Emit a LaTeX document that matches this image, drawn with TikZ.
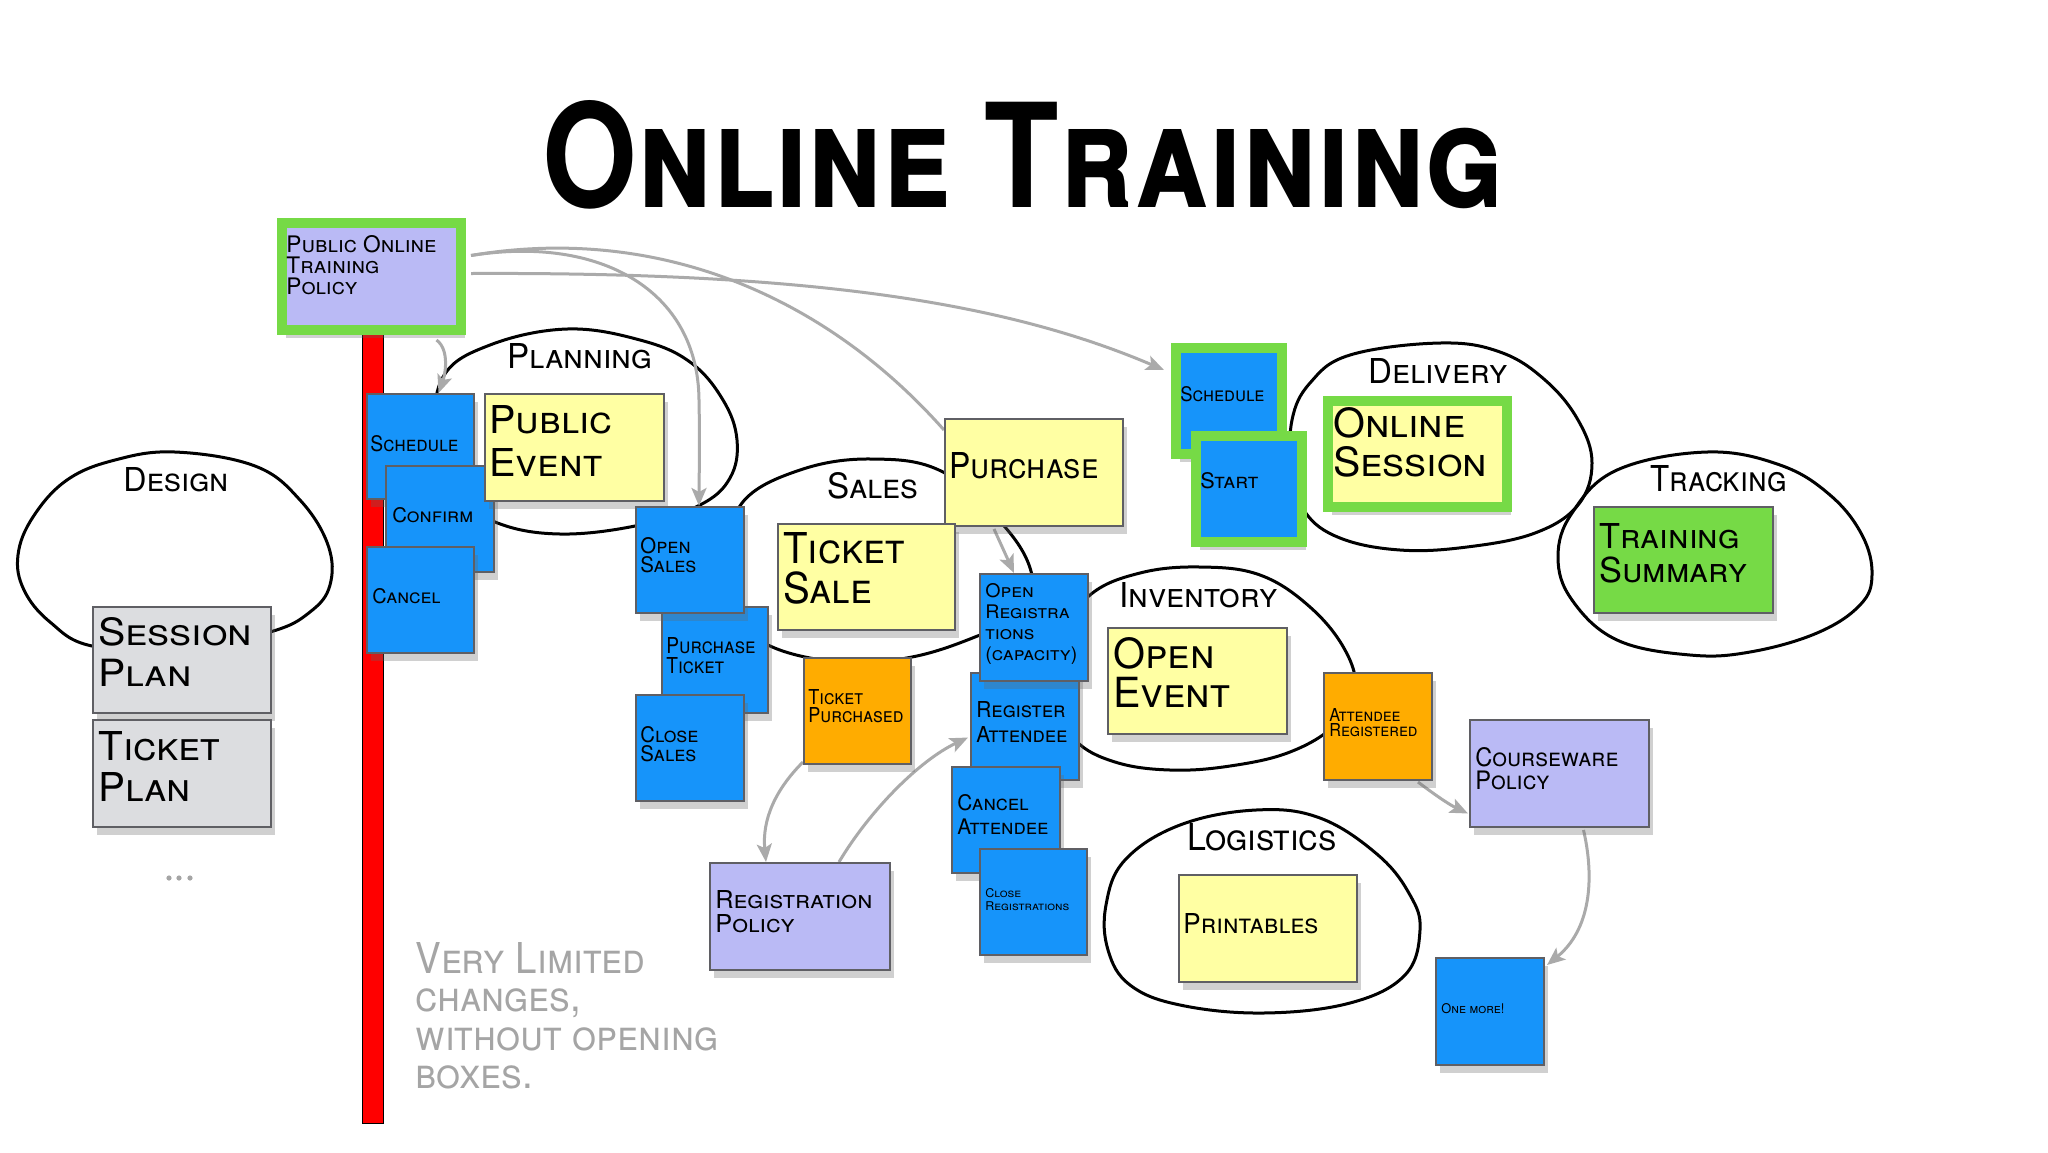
\documentclass[tikz,border=0pt]{standalone}
\usepackage{fontspec}
\usepackage{graphicx}
\setmainfont{TeX Gyre Heros}
\usetikzlibrary{arrows.meta,shadows}
\pgfdeclarelayer{bg}
\pgfsetlayers{bg,main}
\definecolor{pblue}{RGB}{22,148,250}
\definecolor{pyellow}{RGB}{255,255,163}
\definecolor{porange}{RGB}{255,172,0}
\definecolor{plav}{RGB}{186,186,245}
\definecolor{pgreen}{RGB}{118,218,70}
\definecolor{pgray}{RGB}{220,221,224}
\definecolor{boxline}{RGB}{95,95,100}
\definecolor{arrowgray}{RGB}{170,170,170}
\definecolor{notegray}{RGB}{165,165,165}
\newcommand{\mkbox}[6]{\node[box,#6,minimum width={(#4-#2)*0.5pt},minimum height={(#5-#3)*0.5pt}] (#1) at (#2,#3) {};}
\newcommand{\fnt}[2]{\fontsize{#1pt}{#2pt}\selectfont\scshape}
\newcommand{\ft}[5]{\resizebox{#1pt}{#2pt}{\fnt{#3}{#4}#5}}
\newcommand{\lbl}[3]{\resizebox{#1pt}{#2pt}{\scshape #3}}
\begin{document}
\begin{tikzpicture}[x=0.5pt,y=-0.5pt,
  box/.style={draw=boxline,line width=1pt,anchor=north west,inner sep=0,
    drop shadow={shadow xshift=2pt,shadow yshift=-4pt,opacity=.3,fill=black!60}},
  gbox/.style={draw=pgreen,line width=5pt},
  txt/.style={anchor=base west,inner sep=0,text=black},
  blob/.style={draw=black,line width=1.5pt},
  arr/.style={draw=arrowgray,line width=1.5pt,-{Stealth[length=9pt,width=7.5pt,inset=2pt]}},
  line/.style={draw=arrowgray,line width=1.5pt}]
\useasboundingbox (0,0) rectangle (2048,1152);

% title
\node[txt] (title) at (542,207) {\resizebox{480.5pt}{53.5pt}{\bfseries\scshape Online Training}};

% red bar
\node[draw=black,fill=red,line width=0.6pt,anchor=north west,inner sep=0,minimum width=10.5pt,minimum height=396.5pt] (redbar) at (362,330) {};

% boxes
\mkbox{potp}{277}{218}{456}{325}{fill=plav,gbox}
\mkbox{psched}{366}{393}{473}{498}{fill=pblue}
\mkbox{confirm}{385}{465}{493}{571}{fill=pblue}
\mkbox{cancel}{366}{546}{473}{652}{fill=pblue}
\mkbox{pevent}{484}{393}{663}{500}{fill=pyellow}
\mkbox{pticket}{661}{606}{767}{712}{fill=pblue}
\mkbox{osales}{635}{506}{743}{612}{fill=pblue}
\mkbox{csales}{635}{694}{743}{800}{fill=pblue}
\mkbox{purchase}{944}{418}{1122}{525}{fill=pyellow}
\mkbox{tsale}{777}{523}{954}{629}{fill=pyellow}
\mkbox{tpurch}{803}{657}{910}{763}{fill=porange}
\mkbox{regatt}{970}{672}{1078}{779}{fill=pblue}
\mkbox{oregs}{979}{573}{1087}{680}{fill=pblue}
\mkbox{canatt}{951}{766}{1059}{872}{fill=pblue}
\mkbox{closereg}{979}{848}{1086}{954}{fill=pblue}
\mkbox{oevent}{1107}{627}{1286}{733}{fill=pyellow}
\mkbox{attreg}{1323}{672}{1431}{779}{fill=porange}
\mkbox{cware}{1469}{719}{1648}{826}{fill=plav}
\mkbox{onemore}{1435}{957}{1543}{1064}{fill=pblue}
\mkbox{printables}{1178}{874}{1356}{981}{fill=pyellow}
\mkbox{dsched}{1171}{343}{1277}{449}{fill=pblue,gbox}
\mkbox{start}{1191}{431}{1297}{537}{fill=pblue,gbox}
\mkbox{osession}{1323}{396}{1502}{502}{fill=pyellow,gbox}
\mkbox{tsummary}{1593}{506}{1772}{612}{fill=pgreen}
\mkbox{splan}{92}{606}{270}{712}{fill=pgray}
\mkbox{tplan}{92}{719}{270}{826}{fill=pgray}
\mkbox{regpol}{709}{862}{889}{969}{fill=plav}

% box texts
\node[txt] (t-potp) at (286,252) {\ft{75}{8.5}{11.8}{11}{\vtop{\hbox{Public Online}\hbox{Training}\hbox{Policy}}}};
\node[txt] (t-psched) at (370,451) {\ft{44}{8}{11.1}{11}{Schedule}};
\node[txt] (t-confirm) at (392,522) {\ft{40.5}{7.5}{10.4}{11}{Confirm}};
\node[txt] (t-cancel) at (372,603) {\ft{34}{7.5}{10.4}{11}{Cancel}};
\node[txt] (t-pevent) at (489,433) {\ft{61.5}{14}{19.4}{22}{\vtop{\hbox{Public}\hbox{Event}}}};
\node[txt] (t-osales) at (640,553) {\ft{28}{8}{11.1}{10}{\vtop{\hbox{Open}\hbox{Sales}}}};
\node[txt] (t-pticket) at (666,653) {\ft{44.5}{8}{11.1}{10.5}{\vtop{\hbox{Purchase}\hbox{Ticket}}}};
\node[txt] (t-csales) at (640,742) {\ft{29}{8}{11.1}{10}{\vtop{\hbox{Close}\hbox{Sales}}}};
\node[txt] (t-tsale) at (783,563) {\ft{60.5}{15.5}{21.5}{20.5}{\vtop{\hbox{Ticket}\hbox{Sale}}}};
\node[txt] (t-purchase) at (949,478) {\ft{74.5}{13}{18}{18}{Purchase}};
\node[txt] (t-tpurch) at (808,704) {\ft{47.5}{7.5}{10.4}{9.5}{\vtop{\hbox{Ticket}\hbox{Purchased}}}};
\node[txt] (t-oregs) at (985,597) {\ft{46}{7}{9.7}{11}{\vtop{\hbox{Open}\hbox{Registra}\hbox{tions}\hbox{(capacity)}}}};
\node[txt] (t-regatt) at (976,717) {\ft{45.5}{8}{11.1}{13}{\vtop{\hbox{Register}\hbox{Attendee}}}};
\node[txt] (t-canatt) at (957,810) {\ft{45.5}{8}{11.1}{12.5}{\vtop{\hbox{Cancel}\hbox{Attendee}}}};
\node[txt] (t-closereg) at (985,897) {\ft{42}{4.5}{6.2}{7}{\vtop{\hbox{Close}\hbox{Registrations}}}};
\node[txt] (t-oevent) at (1113,668) {\ft{58.5}{15.5}{21.5}{20.5}{\vtop{\hbox{Open}\hbox{Event}}}};
\node[txt] (t-attreg) at (1329,721) {\ft{44}{6.5}{9}{8}{\vtop{\hbox{Attendee}\hbox{Registered}}}};
\node[txt] (t-cware) at (1475,766) {\ft{71.5}{9.5}{13.2}{12}{\vtop{\hbox{Courseware}\hbox{Policy}}}};
\node[txt] (t-onemore) at (1441,1013) {\ft{31.5}{5}{7}{7}{One more!}};
\node[txt] (t-printables) at (1183,933) {\ft{67.5}{10}{13.9}{14}{Printables}};
\node[txt] (t-dsched) at (1180,401) {\ft{42}{7.5}{10.4}{10}{Schedule}};
\node[txt] (t-start) at (1200,488) {\ft{29}{8}{11.1}{11}{Start}};
\node[txt] (t-osession) at (1333,437) {\ft{77}{15}{20.8}{20.5}{\vtop{\hbox{Online}\hbox{Session}}}};
\node[txt] (t-tsummary) at (1599,548) {\ft{74}{12.5}{17.4}{17.5}{\vtop{\hbox{Training}\hbox{Summary}}}};
\node[txt] (t-splan) at (98,645) {\ft{77}{14}{19.4}{21.5}{\vtop{\hbox{Session}\hbox{Plan}}}};
\node[txt] (t-tplan) at (98,760) {\ft{61}{14.5}{20}{21}{\vtop{\hbox{Ticket}\hbox{Plan}}}};
\node[txt] (t-regpol) at (715,908) {\ft{78.5}{9}{12.5}{12.5}{\vtop{\hbox{Registration}\hbox{Policy}}}};
\node[txt,text=notegray] (t-note) at (415,973) {\ft{151.5}{15.5}{21.5}{19.5}{\vtop{\hbox{Very Limited}\hbox{changes,}\hbox{without opening}\hbox{boxes.}}}};

% blob labels
\node[txt] (l-design) at (123,491) {\lbl{52.5}{12}{Design}};
\node[txt] (l-planning) at (507,368) {\lbl{72.5}{12.5}{Planning}};
\node[txt] (l-sales) at (827,498) {\lbl{45.5}{13}{Sales}};
\node[txt] (l-inventory) at (1119,607) {\lbl{79}{12.5}{Inventory}};
\node[txt] (l-logistics) at (1187,850) {\lbl{74.5}{13.5}{Logistics}};
\node[txt] (l-delivery) at (1368,383) {\lbl{69.5}{12.5}{Delivery}};
\node[txt] (l-tracking) at (1650,491) {\lbl{68}{13}{Tracking}};

% ellipsis dots
\foreach \x in {169,179,190}
  \fill[notegray] (\x,878) circle [radius=2.6];

\begin{pgfonlayer}{bg}
\fill[white] (0,0) rectangle (2048,1152);
% blobs
\draw[blob] plot[smooth cycle,tension=0.65] coordinates {(175,452) (255,466) (300,500) (328,545) (330,585) (310,612) (270,632) (180,650) (92,646) (50,622) (24,590) (18,555) (33,517) (67,480) (115,460)};
\draw[blob] plot[smooth cycle,tension=0.65] coordinates {(567,329) (640,340) (690,362) (723,400) (737,440) (730,478) (700,505) (640,525) (560,534) (495,522) (450,490) (435,440) (443,377) (490,345)};
\draw[blob] plot[smooth cycle,tension=0.65] coordinates {(872,459) (943,472) (1005,527) (1032,575) (1025,612) (980,635) (912,657) (840,662) (768,645) (735,610) (730,560) (742,503) (800,470)};
\draw[blob] plot[smooth cycle,tension=0.65] coordinates {(1200,567) (1260,575) (1310,607) (1345,650) (1355,690) (1335,725) (1290,752) (1230,766) (1170,770) (1115,762) (1075,740) (1055,700) (1060,640) (1090,595) (1140,573)};
\draw[blob] plot[smooth cycle,tension=0.65] coordinates {(1256,810) (1320,818) (1378,855) (1410,895) (1420,930) (1405,975) (1350,1003) (1263,1013) (1180,1005) (1130,985) (1108,950) (1106,905) (1125,860) (1180,825)};
\draw[blob] plot[smooth cycle,tension=0.65] coordinates {(1440,343) (1500,352) (1545,380) (1578,420) (1592,463) (1578,505) (1535,533) (1467,547) (1400,550) (1340,538) (1305,512) (1292,470) (1292,420) (1310,383) (1350,355)};
\draw[blob] plot[smooth cycle,tension=0.65] coordinates {(1707,452) (1780,465) (1830,495) (1862,535) (1872,575) (1860,605) (1817,633) (1750,652) (1690,655) (1617,640) (1572,600) (1558,557) (1572,513) (1617,470)};

% connectors
\draw[arr] ([shift={(65,5)}]potp.south) .. controls (450,350) and (445,375) .. ([shift={(18,0)}]psched.north);
\draw[arr] ([shift={(5,-21)}]potp.east) .. controls (600,235) and (698,290) .. (699,400) .. controls (700,450) and (699,480) .. ([shift={(9,0)}]osales.north);
\draw[line] ([shift={(5,-21)}]potp.east) .. controls (650,225) and (820,290) .. ([shift={(0,12)}]purchase.north west);
\draw[arr] ([shift={(5,-3)}]potp.east) .. controls (800,272) and (1000,300) .. ([shift={(-7,-31)}]dsched.west);
\draw[arr] ([shift={(-40,2)}]purchase.south) -- ([shift={(-20,0)}]oregs.north);
\draw[arr] ([shift={(0,-3)}]tpurch.south west) .. controls (775,790) and (762,820) .. ([shift={(-34,0)}]regpol.north);
\draw[arr] ([shift={(39,0)}]regpol.north) .. controls (870,810) and (920,760) .. ([shift={(-2,11)}]regatt.west);
\draw[arr] ([shift={(40,1)}]attreg.south) .. controls (1435,795) and (1450,805) .. ([shift={(-1,40)}]cware.west);
\draw[arr] ([shift={(24,2)}]cware.south) .. controls (1595,880) and (1590,930) .. ([shift={(2,8)}]onemore.north east);
\end{pgfonlayer}
\end{tikzpicture}
\end{document}
